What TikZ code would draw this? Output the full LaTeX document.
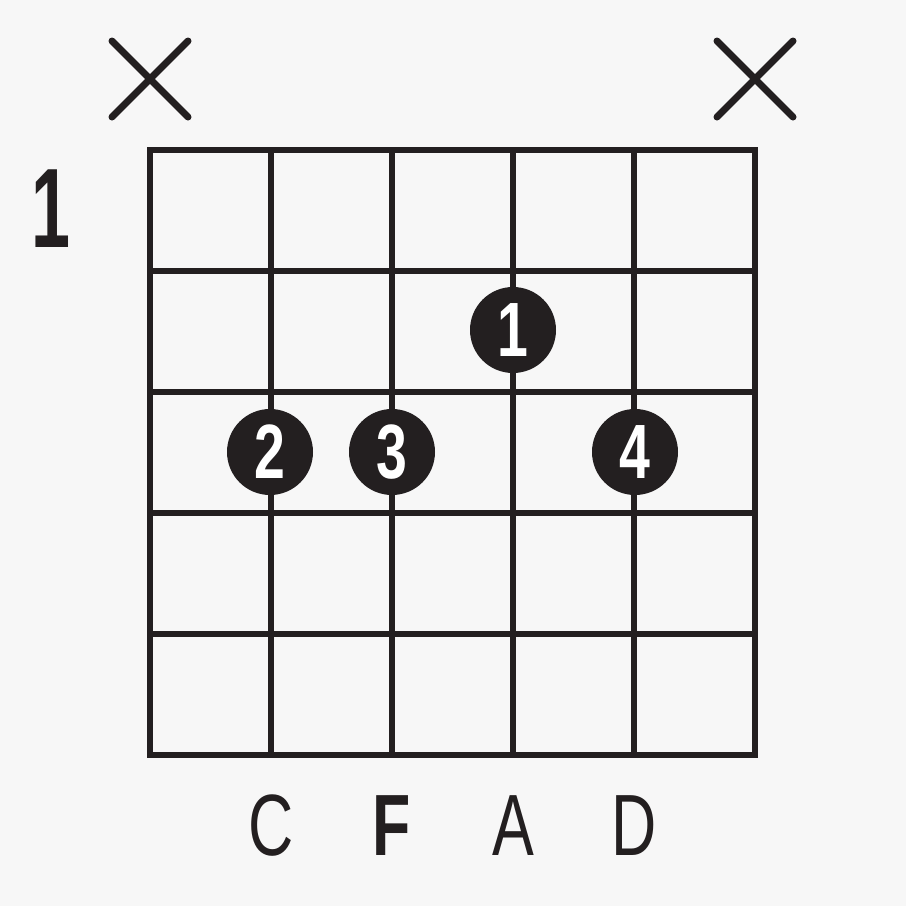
\documentclass[tikz,border=0pt]{standalone}
\usepackage{fontspec}
\setmainfont{Liberation Sans}
\usetikzlibrary{positioning}
\definecolor{ink}{HTML}{231F20}
\definecolor{paper}{HTML}{F7F7F7}
\tikzstyle{string} = [draw=ink, line width=6pt]
\tikzstyle{mute} = [draw=ink, line width=7pt, line cap=round]
\tikzstyle{finger} = [circle, fill=ink, minimum size=86pt, inner sep=0pt, text=white, font=\fontsize{77}{77}\selectfont\bfseries]
\tikzstyle{note} = [text=ink, inner sep=0pt, font=\fontsize{87}{87}\selectfont]
\newcommand{\narrow}[1]{\scalebox{0.72}[1]{#1}}

\begin{document}
\begin{tikzpicture}[x=1pt, y=-1pt]

\useasboundingbox [fill=paper] (0,0) rectangle (906,906);

% fretboard
\draw [string] (150,150) rectangle (755,755);
\draw [string] (271,150) -- (271,755);
\draw [string] (392,150) -- (392,755);
\draw [string] (513,150) -- (513,755);
\draw [string] (634,150) -- (634,755);
\draw [string] (150,271) -- (755,271);
\draw [string] (150,392) -- (755,392);
\draw [string] (150,513) -- (755,513);
\draw [string] (150,634) -- (755,634);

% muted strings
\coordinate (mute1) at (150,79);
\coordinate (mute6) at (755,79);
\draw [mute] ([shift={(-38,-38)}]mute1) -- ([shift={(38,38)}]mute1);
\draw [mute] ([shift={(-38,38)}]mute1) -- ([shift={(38,-38)}]mute1);
\draw [mute] ([shift={(-38,-38)}]mute6) -- ([shift={(38,38)}]mute6);
\draw [mute] ([shift={(-38,38)}]mute6) -- ([shift={(38,-38)}]mute6);

% fret number
\node (fret) [note, font=\fontsize{113}{113}\selectfont\bfseries] at (51,209) {\scalebox{0.62}[1]{1}};

% fingers
\node (f1) [finger] at (513,330) {\narrow{1}};
\node (f2) [finger] at (270,452) {\narrow{2}};
\node (f3) [finger] at (392,452) {\narrow{3}};
\node (f4) [finger] at (635,452) {\narrow{4}};

% notes
\node (nC) [note] at (271,826) {\narrow{C}};
\node (nF) [note, font=\fontsize{87}{87}\selectfont\bfseries] at (392,826) {\narrow{F}};
\node (nA) [note] at (513,826) {\narrow{A}};
\node (nD) [note] at (634,826) {\narrow{D}};

\end{tikzpicture}
\end{document}
